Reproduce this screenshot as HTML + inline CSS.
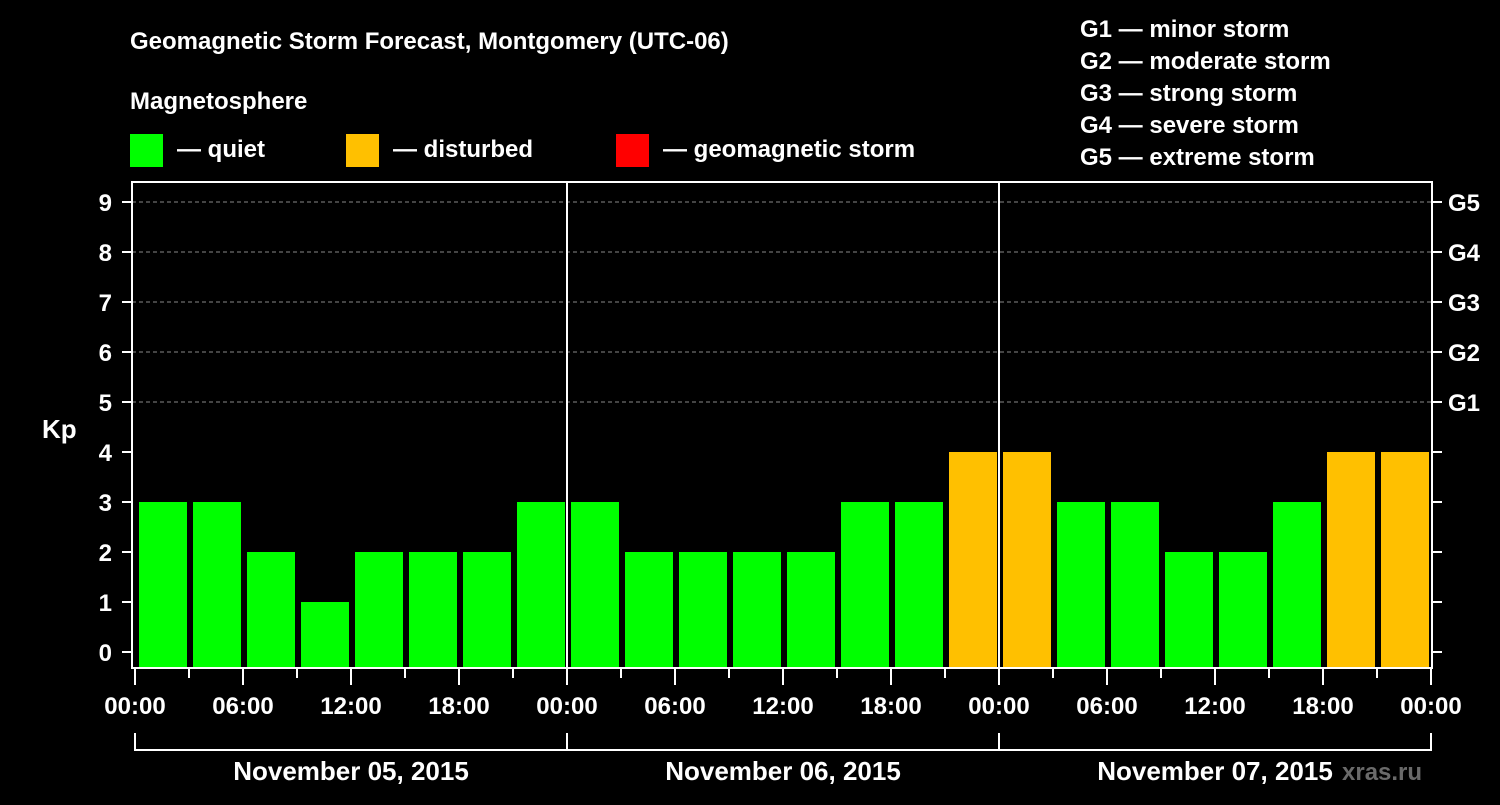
<!DOCTYPE html>
<html><head><meta charset="utf-8"><style>
body{margin:0;background:#000;width:1500px;height:800px;overflow:hidden}
svg text{font-family:"Liberation Sans",Arial,sans-serif;font-weight:bold;fill:#fff}
</style></head><body>
<svg id="c" width="1500" height="800">
<text x="130" y="49" font-size="24">Geomagnetic Storm Forecast, Montgomery (UTC-06)</text>
<text x="130" y="109" font-size="24">Magnetosphere</text>
<g><rect x="130" y="134" width="33" height="33" fill="#00ff00"/><text x="177" y="157" font-size="24">— quiet</text></g>
<g><rect x="346" y="134" width="33" height="33" fill="#ffc000"/><text x="393" y="157" font-size="24">— disturbed</text></g>
<g><rect x="616" y="134" width="33" height="33" fill="#ff0000"/><text x="663" y="157" font-size="24">— geomagnetic storm</text></g>
<g font-size="24">
<text x="1080" y="37">G1 — minor storm</text><text x="1080" y="69">G2 — moderate storm</text><text x="1080" y="101">G3 — strong storm</text><text x="1080" y="133">G4 — severe storm</text><text x="1080" y="165">G5 — extreme storm</text></g>
<text x="42" y="438" font-size="26">Kp</text>
<text x="1342" y="780" font-size="24" fill="#666" style="fill:#6a6a6a">xras.ru</text>
<g id="plot"></g>
</svg>
<script>
const kpValues=[3,3,2,1,2,2,2,3, 3,2,2,2,2,3,3,4, 4,3,3,2,2,3,4,4];
const dayLabels=["November 05, 2015","November 06, 2015","November 07, 2015"];
const hourLabels=["00:00","06:00","12:00","18:00"];
const gLabels=["G1","G2","G3","G4","G5"];
const NS="http://www.w3.org/2000/svg";
const g=document.getElementById('plot');
const X0=135,DAY=432,L=132,R=1432,T=182,B=668;
const y=v=>652-v*50;
const x=i=>X0+i*DAY/8;
function mk(t,a,p){const e=document.createElementNS(NS,t);for(const k in a)e.setAttribute(k,a[k]);(p||g).appendChild(e);return e;}
for(let v=5;v<=9;v++){const l=mk('line',{x1:L,x2:R,y1:y(v),y2:y(v),stroke:'#888','stroke-dasharray':'4,3','stroke-width':1});

}
kpValues.forEach((v,i)=>{const col=v>=5?'#ff0000':v>=4?'#ffc000':'#00ff00';
const r=mk('rect',{x:x(i)+4,y:y(v),width:48,height:B-y(v),fill:col});

});
for(let d=1;d<3;d++){const l=mk('line',{x1:X0+d*DAY,x2:X0+d*DAY,y1:T,y2:B,stroke:'#fff','stroke-width':2});

}
const box=mk('rect',{x:L,y:T,width:R-L,height:B-T,fill:'none',stroke:'#fff','stroke-width':2});


for(let v=0;v<=9;v++){mk('line',{x1:L-10,x2:L,y1:y(v),y2:y(v),stroke:'#fff','stroke-width':2});
mk('line',{x1:R,x2:R+10,y1:y(v),y2:y(v),stroke:'#fff','stroke-width':2});
const t=mk('text',{x:112,y:y(v)+9,'font-size':24,'text-anchor':'end'});t.textContent=v;

}
gLabels.forEach((s,i)=>{const t=mk('text',{x:1448,y:y(i+5)+9,'font-size':24});t.textContent=s;

});
for(let i=0;i<=24;i++){const long=i%2===0;mk('line',{x1:x(i),x2:x(i),y1:B,y2:B+(long?17:10),stroke:'#fff','stroke-width':2});
if(long){const t=mk('text',{x:x(i),y:B+46,'font-size':24,'text-anchor':'middle'});t.textContent=hourLabels[(i/2)%4];

}}
mk('path',{d:`M${X0} 733V750H${X0+3*DAY}V733M${X0+DAY} 733V750M${X0+2*DAY} 733V750`,fill:'none',stroke:'#fff','stroke-width':2});
dayLabels.forEach((s,d)=>{const t=mk('text',{x:X0+d*DAY+216,y:780,'font-size':26,'text-anchor':'middle'});t.textContent=s;

});
</script>
</body></html>
